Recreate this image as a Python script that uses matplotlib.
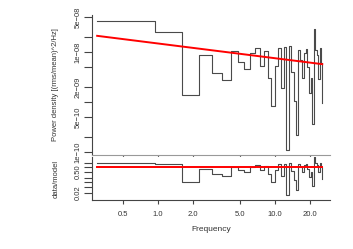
import numpy as np
import matplotlib.pyplot as plt
from matplotlib.ticker import FixedLocator, NullLocator

plt.rcParams['font.family'] = ['Liberation Sans', 'DejaVu Sans']

# binned power spectrum (step plot)
freq = [0.30, 0.95, 1.60, 2.25, 2.90, 3.55, 4.20, 4.85, 5.50, 6.15,
        6.80, 7.45, 8.10, 8.75, 9.40, 10.05, 10.70, 11.35, 12.00, 12.65,
        13.30, 13.95, 14.60, 15.25, 15.90, 16.55, 17.20, 17.85, 18.50, 19.15,
        19.80, 20.45, 21.10, 21.75, 22.40, 23.05, 23.70, 24.35, 25.00, 25.65]
power = [4.1e-08, 2.5e-08, 1.4e-09, 8.7e-09, 3.8e-09, 2.75e-09, 1.06e-08, 6.4e-09, 4.6e-09, 9.5e-09,
         1.22e-08, 5.3e-09, 1.06e-08, 3.0e-09, 8.3e-10, 5.2e-09, 1.22e-08, 1.9e-09, 1.25e-08, 1.1e-10,
         1.3e-08, 4.0e-09, 1.05e-09, 2.2e-10, 1.1e-08, 6.9e-09, 3.0e-09, 9.5e-09, 1.15e-08, 5.0e-09,
         1.5e-09, 3.0e-09, 3.6e-10, 2.9e-08, 1.1e-08, 8.7e-09, 2.9e-09, 1.2e-08, 6.0e-09, 9.5e-10]

# power-law model (straight line in log-log), end points
model_freq = [0.30, 25.65]
model_power = [2.1e-08, 5.7e-09]

ytick_vals = [1e-10, 2e-10, 5e-10, 1e-09, 2e-09, 5e-09, 1e-08, 2e-08, 5e-08]
ytick_text = ['1e\u221210', '', '5e\u221210', '', '2e\u221209', '', '1e\u221208', '', '5e\u221208']
rtick_vals = [0.02, 0.05, 0.1, 0.2, 0.5, 1, 2]
rtick_text = ['0.02', '', '', '', '0.50', '', '']
xtick_vals = [0.5, 1, 2, 5, 10, 20]
xtick_text = ['0.5', '1.0', '2.0', '5.0', '10.0', '20.0']

f = np.array(freq)
p = np.array(power)
slope = np.log(model_power[1] / model_power[0]) / np.log(model_freq[1] / model_freq[0])
ratio = p / (model_power[0] * (f / model_freq[0]) ** slope)

W, H = 353, 249
fig = plt.figure(figsize=(W / 100, H / 100), dpi=100)
ax1 = fig.add_axes([92 / W, 1 - 155 / H, 238 / W, 140 / H])
ax2 = fig.add_axes([92 / W, 1 - 200 / H, 238 / W, 43 / H])

axcol = '#444444'
for ax in (ax1, ax2):
    ax.set_xscale('log')
    ax.set_yscale('log')
    ax.set_xlim(0.271, 29.9)
    for s in ('top', 'right'):
        ax.spines[s].set_visible(False)
    ax.spines['left'].set_color(axcol)
    ax.spines['left'].set_linewidth(0.8)
    ax.xaxis.set_major_locator(FixedLocator(xtick_vals))
    ax.xaxis.set_minor_locator(NullLocator())
    ax.yaxis.set_minor_locator(NullLocator())

ax1.step(f, p, where='post', color='#4a4a4a', lw=0.8)
ax1.plot(model_freq, model_power, color='#ff0000', lw=1.4)
ax1.set_ylim(8.7e-11, 5.48e-08)
ax1.set_yticks(ytick_vals)
ax1.set_yticklabels(ytick_text)
ax1.set_xticklabels([])
ax1.spines['bottom'].set_color('#999999')
ax1.spines['bottom'].set_linewidth(0.8)
ax1.tick_params(axis='x', length=3, width=0.8, color='#666666')
ax1.tick_params(axis='y', length=5.5, width=0.8, color=axcol, labelsize=5.5,
                labelcolor='#333333', pad=2)
ax1.set_ylabel('Power density [(rms/mean)^2/Hz]', fontsize=5.5, color='#333333', labelpad=11)

ax2.step(f, ratio, where='post', color='#4a4a4a', lw=0.8)
ax2.plot(model_freq, [1, 1], color='#ff0000', lw=1.4)
ax2.set_ylim(0.0068, 5.0)
ax2.set_yticks(rtick_vals)
ax2.set_yticklabels(rtick_text)
ax2.set_xticklabels(xtick_text)
ax2.spines['bottom'].set_color(axcol)
ax2.spines['bottom'].set_linewidth(0.8)
ax2.tick_params(axis='x', length=3, width=0.8, color=axcol, labelsize=5.5,
                labelcolor='#333333', pad=5)
ax2.tick_params(axis='y', length=5.5, width=0.8, color=axcol, labelsize=5.5,
                labelcolor='#333333', pad=2)
ax2.set_ylabel('data/model', fontsize=5.5, color='#333333', labelpad=11)
ax2.set_xlabel('Frequency', fontsize=6, color='#333333', labelpad=6)

for ax in (ax1, ax2):
    plt.setp(ax.get_yticklabels(), rotation=90, va='center')

fig.savefig('out.png', dpi=100)
